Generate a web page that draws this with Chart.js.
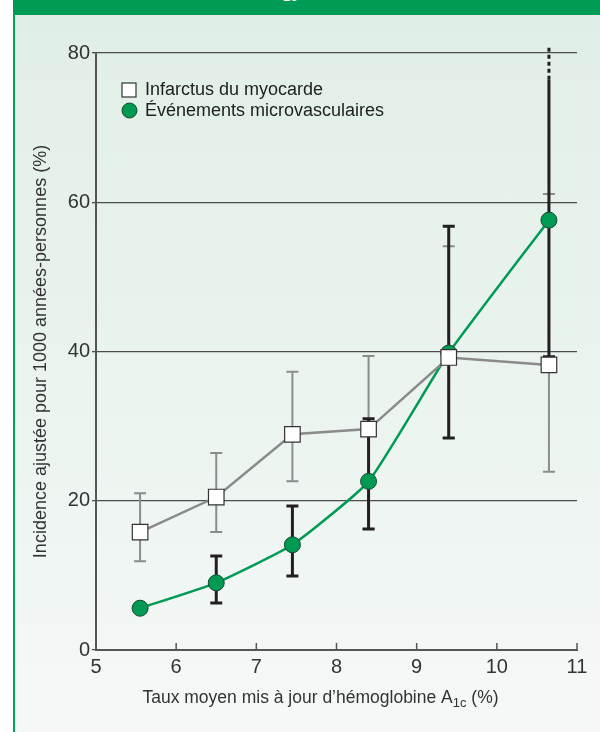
<!DOCTYPE html>
<html>
<head>
<meta charset="utf-8">
<script src="https://cdn.jsdelivr.net/npm/chart.js@4.4.1/dist/chart.umd.min.js"></script>
<style>
	html, body { margin: 0; padding: 0; background: #fff; }
	#page { position: relative; width: 600px; height: 732px; overflow: hidden; background: #fff; }
	#band { position: absolute; left: 13px; top: 0; width: 587px; height: 15px; background: #009b55; overflow: hidden; }
	#band span { position: absolute; left: 270px; top: -11px; color: #fff; font: bold 13px "Liberation Sans", Arial, sans-serif; }
	#panel { position: absolute; left: 13px; top: 15px; width: 585px; height: 717px; border-left: 2px solid #00a35c; background: linear-gradient(#e0efe6, #f5f8f7); }
	#chart { position: absolute; left: 0; top: 0; }
</style>
</head>
<body>
<div id="page">
	<div id="band"><span>1c</span></div>
	<div id="panel"></div>
	<canvas id="chart" width="600" height="732"></canvas>
</div>
<script>
"use strict";

// HbA1c (%) moyen par catégorie
const hba1c = [5.55, 6.5, 7.45, 8.4, 9.4, 10.65];

// Infarctus du myocarde
const imValues = [15.8, 20.5, 28.9, 29.6, 39.2, 38.2];
const imLow = [11.9, 15.8, 22.6, 16.2, 28.4, 23.9];
const imHigh = [21.0, 26.4, 37.3, 39.4, 54.1, 61.1];

// Événements microvasculaires
const mvValues = [5.6, 9.0, 14.1, 22.6, 39.8, 57.6];
const mvLow = [null, 6.3, 9.9, 16.2, 28.4, 39.3];
const mvHigh = [null, 12.6, 19.3, 31.0, 56.8, 80.7];
const mvSolidLimit = 76.4; // au-delà : intervalle tronqué (pointillés)

const xTicks = [5, 6, 7, 8, 9, 10, 11];
const yTicks = [0, 20, 40, 60, 80];

const labelIM = "Infarctus du myocarde";
const labelMV = "Événements microvasculaires";
const yTitle = "Incidence ajustée pour 1000 années-personnes (%)";
const xTitleMain = "Taux moyen mis à jour d\u2019hémoglobine A";
const xTitleSub = "1c";
const xTitleEnd = " (%)";

const FONT = '"Liberation Sans", Arial, sans-serif';
const GREEN = "#009a55";

function drawErrorBars(ctx, x, y, low, high, color, width, solidLimit) {
	ctx.save();
	ctx.strokeStyle = color;
	ctx.lineWidth = width;
	const cap = 6;
	for (let i = 0; i < hba1c.length; i++) {
		if (low[i] == null || high[i] == null) continue;
		const px = x.getPixelForValue(hba1c[i]);
		const yLow = y.getPixelForValue(low[i]);
		const truncated = solidLimit != null && high[i] > solidLimit;
		const yHigh = y.getPixelForValue(truncated ? solidLimit : high[i]);
		ctx.setLineDash([]);
		ctx.beginPath();
		ctx.moveTo(px, yLow);
		ctx.lineTo(px, yHigh);
		ctx.moveTo(px - cap, yLow);
		ctx.lineTo(px + cap, yLow);
		if (!truncated) {
			ctx.moveTo(px - cap, yHigh);
			ctx.lineTo(px + cap, yHigh);
		}
		ctx.stroke();
		if (truncated) {
			ctx.setLineDash([4, 3]);
			ctx.beginPath();
			ctx.moveTo(px, yHigh);
			ctx.lineTo(px, y.getPixelForValue(high[i]));
			ctx.stroke();
		}
	}
	ctx.restore();
}

const extras = {
	id: "extras",
	beforeDatasetsDraw(chart) {
		const { ctx, scales: { x, y } } = chart;
		// petites graduations vers le haut sur l'axe des x
		ctx.save();
		ctx.strokeStyle = "#555";
		ctx.lineWidth = 1.5;
		ctx.beginPath();
		xTicks.slice(1).forEach(v => {
			const px = x.getPixelForValue(v);
			ctx.moveTo(px, y.bottom);
			ctx.lineTo(px, y.bottom - 7);
		});
		ctx.stroke();
		ctx.restore();

		drawErrorBars(ctx, x, y, imLow, imHigh, "#8c8c8c", 2, null);
		drawErrorBars(ctx, x, y, mvLow, mvHigh, "#231f20", 3, mvSolidLimit);
	},
	afterDraw(chart) {
		const { ctx, chartArea } = chart;
		ctx.save();
		// légende
		ctx.fillStyle = "#fff";
		ctx.strokeStyle = "#333";
		ctx.lineWidth = 1.2;
		ctx.fillRect(122, 83, 14, 14);
		ctx.strokeRect(122, 83, 14, 14);
		ctx.beginPath();
		ctx.arc(129.5, 110.5, 7.5, 0, Math.PI * 2);
		ctx.fillStyle = GREEN;
		ctx.fill();
		ctx.strokeStyle = "#14492c";
		ctx.lineWidth = 1;
		ctx.stroke();
		ctx.fillStyle = "#222";
		ctx.font = "18px " + FONT;
		ctx.textBaseline = "middle";
		ctx.textAlign = "left";
		ctx.fillText(labelIM, 145, 90);
		ctx.fillText(labelMV, 145, 111);

		// titre de l'axe x avec indice
		ctx.fillStyle = "#333";
		const mainFont = "17.5px " + FONT;
		const subFont = "13px " + FONT;
		ctx.font = mainFont;
		const w1 = ctx.measureText(xTitleMain).width;
		const w3 = ctx.measureText(xTitleEnd).width;
		ctx.font = subFont;
		const w2 = ctx.measureText(xTitleSub).width;
		const cx = (chartArea.left + chartArea.right) / 2 - 16;
		let tx = cx - (w1 + w2 + w3) / 2;
		const ty = 703;
		ctx.textBaseline = "alphabetic";
		ctx.font = mainFont;
		ctx.fillText(xTitleMain, tx, ty);
		tx += w1;
		ctx.font = subFont;
		ctx.fillText(xTitleSub, tx, ty + 4);
		tx += w2;
		ctx.font = mainFont;
		ctx.fillText(xTitleEnd, tx, ty);
		ctx.restore();
	}
};

const chart = new Chart(document.getElementById("chart"), {
	type: "line",
	data: {
		datasets: [
			{
				label: labelIM,
				data: hba1c.map((v, i) => ({ x: v, y: imValues[i] })),
				borderColor: "#8a8a8a",
				borderWidth: 2.5,
				pointStyle: "rect",
				pointRadius: 11,
				pointBackgroundColor: "#fff",
				pointBorderColor: "#333",
				pointBorderWidth: 1.2,
				tension: 0
			},
			{
				label: labelMV,
				data: hba1c.map((v, i) => ({ x: v, y: mvValues[i] })),
				borderColor: GREEN,
				borderWidth: 2.5,
				pointStyle: "circle",
				pointRadius: 8,
				pointBackgroundColor: GREEN,
				pointBorderColor: "#14492c",
				pointBorderWidth: 1,
				tension: 0.15
			}
		]
	},
	options: {
		responsive: false,
		devicePixelRatio: 1,
		animation: false,
		layout: { padding: { top: 53, right: 23, left: 0, bottom: 0 } },
		plugins: {
			legend: { display: false },
			tooltip: { enabled: false }
		},
		scales: {
			x: {
				type: "linear",
				min: 5,
				max: 11,
				afterBuildTicks: s => { s.ticks = xTicks.map(v => ({ value: v })); },
				ticks: { color: "#333", font: { size: 20, family: FONT }, padding: 5 },
				grid: { display: true, drawOnChartArea: false, drawTicks: false },
				border: { display: true, color: "#555", width: 2 },
				afterFit: s => { s.height = 82; }
			},
			y: {
				min: 0,
				max: 80,
				afterBuildTicks: s => { s.ticks = yTicks.map(v => ({ value: v })); },
				ticks: { color: "#333", font: { size: 20, family: FONT }, padding: 2 },
				grid: { color: "#4d4d4d", lineWidth: 1.3, tickLength: 4 },
				border: { display: true, color: "#555", width: 2 },
				title: {
					display: true,
					text: yTitle,
					color: "#333",
					font: { size: 18, family: FONT },
					padding: { top: 30 }
				},
				afterFit: s => { s.width = 96; }
			}
		}
	},
	plugins: [extras]
});
</script>
</body>
</html>
